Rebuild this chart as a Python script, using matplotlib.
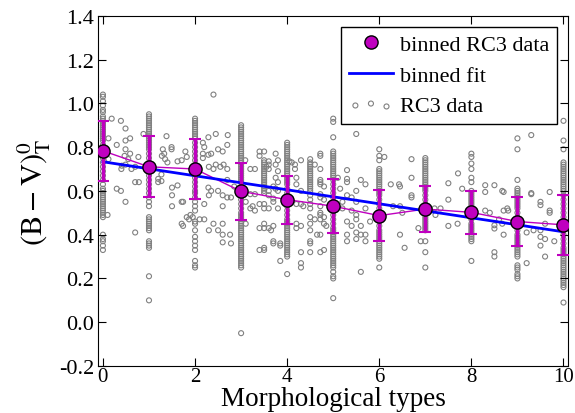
import matplotlib
matplotlib.use('Agg')
import matplotlib.pyplot as plt
import numpy as np

plt.rcParams['font.family'] = ['Liberation Serif', 'DejaVu Serif']
plt.rcParams['mathtext.fontset'] = 'stix'

#Binned RC3 data: morphological type, mean colour and spread
bin_types = [0, 1, 2, 3, 4, 5, 6, 7, 8, 9, 10]
bin_means = [0.783, 0.71, 0.70, 0.598, 0.56, 0.53, 0.487, 0.517, 0.502, 0.46, 0.445]
bin_errors = [0.137, 0.14, 0.135, 0.13, 0.11, 0.123, 0.115, 0.107, 0.097, 0.11, 0.138]

#Linear fit to the binned data
fit_intercept = 0.733
fit_slope = -0.032

#RC3 galaxies that sit on a type column
col_types = [0, 1, 2, 3, 3.5, 4, 4.5, 4.72, 5, 6, 7, 8, 9, 10]
col_t0 = [1.04, 1.03, 1.01, 0.99, 0.97, 0.96, 0.94, 0.93, 0.92, 0.91, 0.90, 0.89, 0.88, 0.87, 0.86, 0.85,
          0.84, 0.83, 0.81, 0.79, 0.77, 0.75, 0.73, 0.71, 0.69, 0.67, 0.65, 0.63, 0.61, 0.60, 0.59, 0.58,
          0.57, 0.56, 0.55, 0.54, 0.53, 0.52, 0.51, 0.50, 0.49, 0.48, 0.40, 0.38, 0.37, 0.35, 0.33]
col_t1 = [0.95, 0.94, 0.93, 0.92, 0.91, 0.90, 0.89, 0.88, 0.87, 0.86, 0.85, 0.84, 0.83, 0.82, 0.81, 0.80,
          0.79, 0.77, 0.75, 0.73, 0.71, 0.69, 0.67, 0.65, 0.63, 0.61, 0.59, 0.57, 0.55, 0.53, 0.48, 0.47,
          0.46, 0.45, 0.44, 0.43, 0.42, 0.37, 0.36, 0.35, 0.34, 0.21, 0.10]
col_t2 = [0.93, 0.92, 0.91, 0.90, 0.89, 0.88, 0.87, 0.86, 0.85, 0.84, 0.82, 0.80, 0.78, 0.76, 0.74, 0.72,
          0.70, 0.68, 0.66, 0.64, 0.62, 0.60, 0.59, 0.57, 0.55, 0.53, 0.51, 0.46, 0.45, 0.42, 0.39, 0.37,
          0.35, 0.33, 0.28, 0.26, 0.25]
col_t3 = [0.90, 0.89, 0.88, 0.87, 0.86, 0.85, 0.84, 0.83, 0.82, 0.81, 0.80, 0.79, 0.78, 0.77, 0.76, 0.75,
          0.74, 0.73, 0.72, 0.71, 0.70, 0.69, 0.68, 0.67, 0.66, 0.65, 0.64, 0.62, 0.60, 0.58, 0.56, 0.54,
          0.52, 0.50, 0.49, 0.48, 0.47, 0.46, 0.45, 0.44, 0.43, 0.42, 0.41, 0.40, 0.39, 0.38, 0.37, 0.36,
          0.35, 0.34, 0.33, 0.32, 0.31, 0.30, 0.29, 0.28, 0.27, 0.26, 0.25, -0.05]
col_t35 = [0.78, 0.74, 0.73, 0.72, 0.71, 0.70, 0.69, 0.68, 0.67, 0.66, 0.65, 0.64, 0.63, 0.62, 0.61, 0.60,
           0.59, 0.54, 0.45, 0.43, 0.34, 0.33]
col_t4 = [0.82, 0.81, 0.80, 0.79, 0.78, 0.77, 0.76, 0.75, 0.74, 0.73, 0.72, 0.71, 0.70, 0.69, 0.68, 0.67,
          0.66, 0.65, 0.64, 0.63, 0.61, 0.59, 0.57, 0.55, 0.53, 0.51, 0.49, 0.47, 0.46, 0.45, 0.44, 0.43,
          0.42, 0.41, 0.40, 0.39, 0.38, 0.37, 0.36, 0.35, 0.34, 0.33, 0.32, 0.31, 0.30, 0.22]
col_t45 = [0.745, 0.73, 0.72, 0.71, 0.70, 0.69, 0.68, 0.67, 0.66, 0.65, 0.64, 0.63, 0.62, 0.61, 0.60, 0.58,
           0.56, 0.54, 0.52, 0.48, 0.45, 0.42, 0.37, 0.36, 0.32]
col_t47 = [0.77, 0.76, 0.70, 0.65, 0.64, 0.63, 0.585, 0.57, 0.53, 0.50, 0.49, 0.47, 0.40, 0.32]
col_t5 = [0.93, 0.915, 0.845, 0.78, 0.77, 0.76, 0.75, 0.74, 0.73, 0.72, 0.71, 0.70, 0.69, 0.68, 0.67, 0.66,
          0.65, 0.63, 0.61, 0.59, 0.57, 0.55, 0.53, 0.51, 0.49, 0.47, 0.45, 0.43, 0.42, 0.41, 0.40, 0.39,
          0.38, 0.37, 0.36, 0.35, 0.34, 0.33, 0.32, 0.31, 0.30, 0.29, 0.28, 0.27, 0.26, 0.25, 0.23, 0.21,
          0.20, 0.11]
col_t6 = [0.79, 0.76, 0.74, 0.70, 0.69, 0.68, 0.67, 0.66, 0.65, 0.64, 0.63, 0.62, 0.61, 0.60, 0.59, 0.58,
          0.56, 0.54, 0.52, 0.50, 0.48, 0.46, 0.44, 0.42, 0.41, 0.40, 0.39, 0.38, 0.37, 0.36, 0.35, 0.34,
          0.33, 0.32, 0.31, 0.30, 0.29, 0.25]
col_t7 = [0.75, 0.74, 0.73, 0.72, 0.71, 0.70, 0.69, 0.68, 0.67, 0.66, 0.65, 0.64, 0.63, 0.62, 0.61, 0.60,
          0.58, 0.56, 0.54, 0.52, 0.50, 0.48, 0.47, 0.46, 0.45, 0.44, 0.43, 0.42, 0.37, 0.32, 0.25]
col_t8 = [0.77, 0.755, 0.725, 0.70, 0.66, 0.64, 0.60, 0.59, 0.58, 0.57, 0.56, 0.55, 0.54, 0.53, 0.51, 0.49,
          0.47, 0.45, 0.44, 0.43, 0.42, 0.41, 0.40, 0.39, 0.38, 0.37, 0.28]
col_t9 = [0.84, 0.79, 0.65, 0.61, 0.60, 0.59, 0.58, 0.57, 0.56, 0.55, 0.54, 0.53, 0.52, 0.50, 0.48, 0.46,
          0.44, 0.42, 0.40, 0.39, 0.38, 0.37, 0.36, 0.35, 0.34, 0.33, 0.32, 0.31, 0.30, 0.26, 0.25, 0.24,
          0.22, 0.21, 0.20]
col_t10 = [0.92, 0.83, 0.79, 0.73, 0.72, 0.71, 0.70, 0.69, 0.68, 0.67, 0.66, 0.65, 0.64, 0.63, 0.62, 0.61,
           0.60, 0.58, 0.56, 0.54, 0.52, 0.50, 0.48, 0.46, 0.44, 0.42, 0.40, 0.38, 0.36, 0.34, 0.33, 0.32,
           0.31, 0.30, 0.29, 0.28, 0.27, 0.26, 0.25, 0.24, 0.23, 0.22, 0.21, 0.20, 0.19, 0.18, 0.17, 0.16,
           0.09]
col_values = [col_t0, col_t1, col_t2, col_t3, col_t35, col_t4, col_t45, col_t47,
              col_t5, col_t6, col_t7, col_t8, col_t9, col_t10]

#RC3 galaxies with in-between types
loose_x = [0.19, 0.39, 0.49, 0.59, 0.49, 0.30, 0.49, 0.59, 0.12, 0.12, 0.41, 0.49, 0.70, 0.70, 0.78, 0.30,
           0.39, 0.49, 0.10, 0.70, 0.88, 0.47, 0.55, 0.62, 0.77, 0.40,
           1.38, 1.30, 1.33, 1.35, 1.28, 1.49, 1.49, 1.27, 1.27, 1.50, 1.50, 1.50, 1.62, 1.71, 1.62, 1.71,
           1.82, 1.79, 1.71, 1.82, 1.90, 1.20, 1.20, 1.40, 1.74, 1.87, 1.95, 1.74,
           2.40, 2.29, 2.17, 2.20, 2.29, 2.17, 2.17, 2.50, 2.60, 2.70, 2.71, 2.45, 2.35, 2.40, 2.45, 2.55,
           2.62, 2.30, 2.29, 2.50, 2.60, 2.70, 2.78, 2.35, 2.30, 2.20, 2.60, 2.10, 2.20, 2.50, 2.60, 2.76,
           2.78, 2.60, 2.60, 2.30, 2.40, 2.70, 2.70, 2.85,
           3.09, 3.20, 3.30, 3.40, 3.40, 3.20, 3.30, 3.10, 3.20, 3.30, 3.25, 3.40, 3.10, 3.40, 3.60, 3.65,
           3.40, 3.60, 3.60, 3.60, 3.55, 3.70, 3.60, 3.60, 3.70, 3.70, 3.70, 3.70, 3.70, 3.75, 3.80, 3.75,
           3.80, 3.75, 3.80, 3.75, 3.80, 3.85, 3.85, 3.85, 3.60, 3.80, 3.50,
           4.05, 4.17, 4.17, 4.30, 4.20, 4.30, 4.20, 4.10, 4.20, 4.30, 4.35, 4.20, 4.30, 4.20, 4.30, 4.30,
           4.30, 4.60, 4.80, 4.80, 4.80, 4.80, 4.85, 4.80, 4.60, 4.65,
           5.50, 5.30, 5.30, 5.30, 5.60, 5.70, 5.50, 5.30, 5.40, 5.20, 5.50, 5.20, 5.40, 5.50, 5.50, 5.70,
           5.80, 5.30, 5.40, 5.60, 5.50, 5.60, 5.70, 5.30, 5.30, 5.50, 5.70, 5.60, 5.15, 5.10,
           6.11, 6.70, 6.43, 6.70, 6.70, 6.70, 6.30, 6.45, 6.45, 6.55, 6.50, 6.45, 6.85, 6.25, 6.90,
           7.50, 7.50, 7.33, 7.22, 7.50, 7.71, 7.80, 7.70, 7.20,
           8.30, 8.30, 8.50, 8.70, 8.30, 8.50, 8.50, 8.70, 8.80, 8.70, 8.50, 8.67, 8.78, 8.67, 8.50, 8.40,
           8.60,
           9.30, 9.30, 9.50, 9.70, 9.70, 9.20, 9.35, 9.50, 9.50, 9.60, 9.60, 9.80, 9.50, 9.20, 9.50, 9.70,
           9.30, 9.60]
loose_y = [0.93, 0.92, 0.885, 0.84, 0.83, 0.81, 0.79, 0.77, 0.84, 0.745, 0.715, 0.72, 0.71, 0.64, 0.64, 0.61,
           0.60, 0.55, 0.49, 0.41, 0.86, 0.76, 0.745, 0.70, 0.755, 0.70,
           0.85, 0.79, 0.77, 0.745, 0.76, 0.80, 0.79, 0.675, 0.645, 0.615, 0.58, 0.53, 0.625, 0.55, 0.735, 0.74,
           0.755, 0.78, 0.45, 0.48, 0.49, 0.655, 0.64, 0.73, 0.55, 0.47, 0.48, 0.44,
           1.04, 0.845, 0.82, 0.80, 0.765, 0.77, 0.75, 0.79, 0.78, 0.81, 0.855, 0.86, 0.77, 0.70, 0.72, 0.71,
           0.72, 0.71, 0.615, 0.60, 0.58, 0.57, 0.57, 0.60, 0.58, 0.54, 0.53, 0.47, 0.47, 0.42, 0.45, 0.40,
           0.36, 0.40, 0.365, 0.42, 0.45, 0.65, 0.70, 0.62,
           0.74, 0.70, 0.70, 0.76, 0.78, 0.585, 0.585, 0.55, 0.52, 0.51, 0.53, 0.54, 0.45, 0.43, 0.43, 0.42,
           0.33, 0.735, 0.72, 0.70, 0.71, 0.62, 0.60, 0.58, 0.565, 0.55, 0.44, 0.37, 0.36, 0.77, 0.74, 0.72,
           0.69, 0.66, 0.64, 0.61, 0.60, 0.36, 0.35, 0.28, 0.52, 0.52, 0.52,
           0.735, 0.72, 0.70, 0.74, 0.63, 0.60, 0.66, 0.73, 0.54, 0.54, 0.53, 0.45, 0.44, 0.43, 0.32, 0.27,
           0.25, 0.72, 0.62, 0.56, 0.48, 0.45, 0.44, 0.33, 0.47, 0.40,
           0.86, 0.695, 0.655, 0.64, 0.65, 0.63, 0.60, 0.58, 0.57, 0.55, 0.55, 0.52, 0.51, 0.49, 0.47, 0.52,
           0.46, 0.46, 0.44, 0.44, 0.41, 0.40, 0.40, 0.40, 0.37, 0.38, 0.37, 0.23, 0.61, 0.66,
           0.755, 0.745, 0.63, 0.66, 0.58, 0.57, 0.53, 0.53, 0.40, 0.34, 0.50, 0.62, 0.43, 0.63, 0.37,
           0.635, 0.56, 0.52, 0.49, 0.44, 0.68, 0.61, 0.45, 0.52,
           0.626, 0.595, 0.626, 0.595, 0.51, 0.443, 0.428, 0.51, 0.51, 0.40, 0.30, 0.45, 0.52, 0.60, 0.32, 0.50,
           0.47,
           0.855, 0.585, 0.535, 0.595, 0.50, 0.41, 0.42, 0.39, 0.35, 0.38, 0.30, 0.37, 0.42, 0.27, 0.55, 0.51,
           0.59, 0.45]

#Put all RC3 points together
rc3_x = list(loose_x)
rc3_y = list(loose_y)
for t, vals in zip(col_types, col_values):
    rc3_x += [t] * len(vals)
    rc3_y += vals

fig = plt.figure(figsize=(5.75, 4.14), dpi=100)
ax = fig.add_axes([0.171, 0.1135, 0.817, 0.846])

ax.scatter(rc3_x, rc3_y, s=13, facecolors='none', edgecolors='0.5', linewidths=0.8,
           label='RC3 data', zorder=1)

fit_x = np.array([bin_types[0], bin_types[-1]])
ax.plot(fit_x, fit_intercept + fit_slope * fit_x, color='blue', lw=2, label='binned fit', zorder=3)

ax.plot(bin_types, bin_means, '-', color='m', lw=1, zorder=2)
ax.errorbar(bin_types, bin_means, yerr=bin_errors, fmt='none', ecolor='m', elinewidth=2.5,
            capsize=4, capthick=1.5, zorder=4)
ax.plot(bin_types, bin_means, 'o', ms=9.5, mfc='m', mec='k', mew=1, ls='none',
        label='binned RC3 data', zorder=5)

ax.set_xlim(-0.1, 10.1)
ax.set_ylim(-0.2, 1.4)
ax.set_xticks([0, 2, 4, 6, 8, 10])
ax.set_yticks(np.arange(-0.2, 1.41, 0.2))
ax.yaxis.set_major_formatter(matplotlib.ticker.FormatStrFormatter('%.1f'))
ax.tick_params(direction='in', top=True, right=True, length=6, labelsize=16, pad=3)
ax.tick_params(axis='x', labelsize=15, pad=1)

ax.set_xlabel('Morphological types', fontsize=19.5, labelpad=0)
ax.set_ylabel(r'$(\mathrm{B-V})_\mathrm{T}^0$', fontsize=22)

handles, labels = ax.get_legend_handles_labels()
order = [labels.index('binned RC3 data'), labels.index('binned fit'), labels.index('RC3 data')]
leg = ax.legend([handles[i] for i in order], [labels[i] for i in order], loc='upper right',
                fontsize=16, numpoints=1, scatterpoints=3, fancybox=False, framealpha=1,
                edgecolor='k', handletextpad=0.3, labelspacing=0.45, borderpad=0.35)
leg.get_frame().set_linewidth(1)

fig.savefig('out.png', dpi=100)
